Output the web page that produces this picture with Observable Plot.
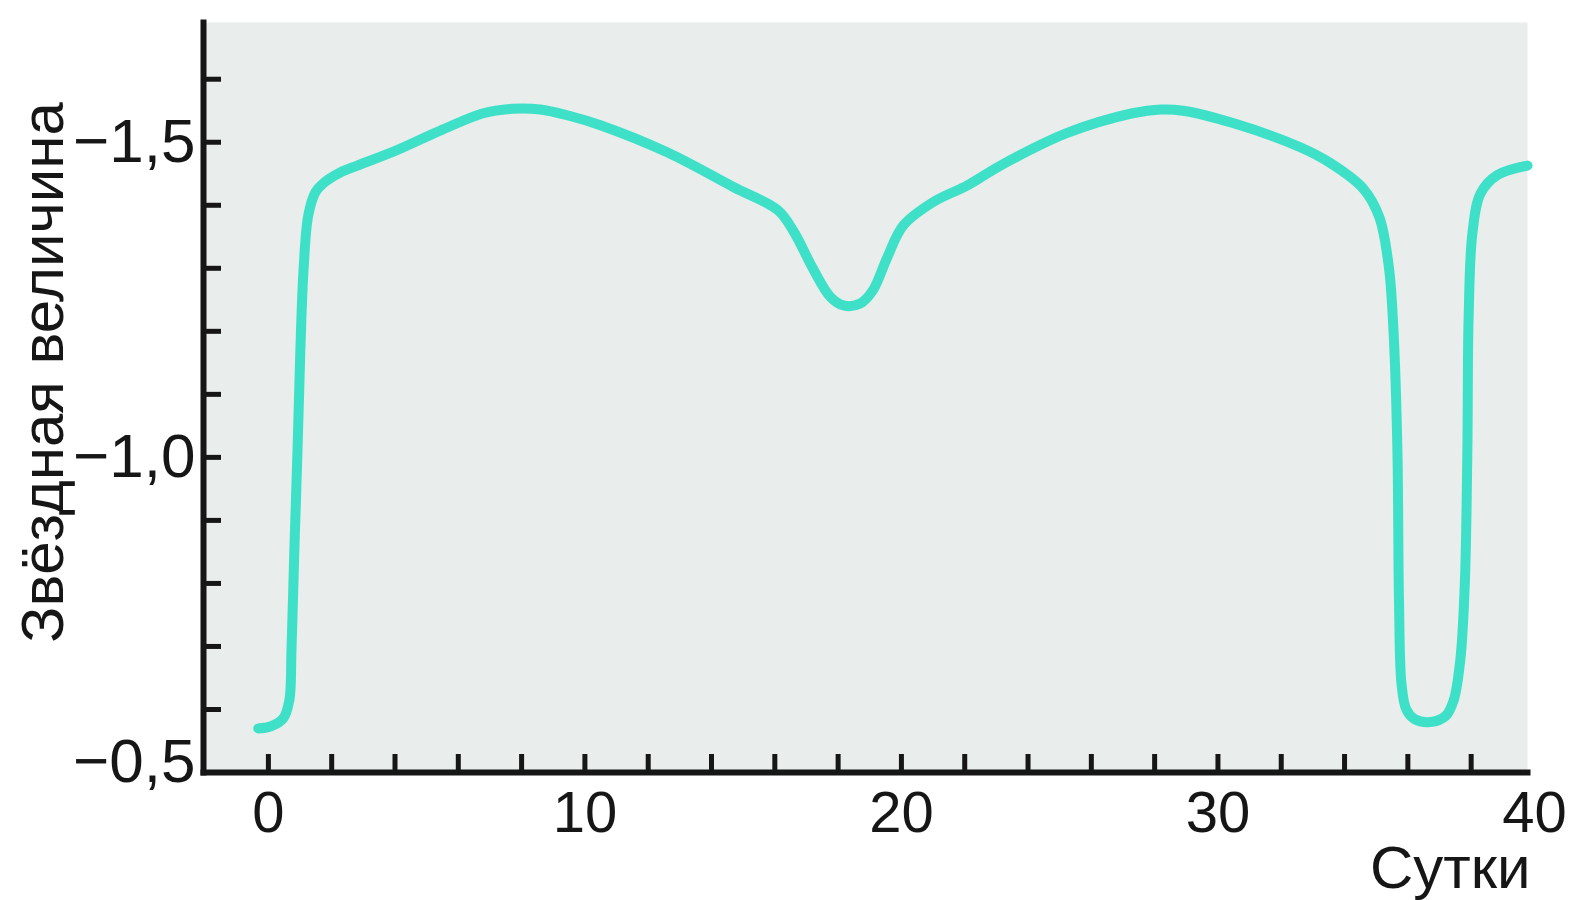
<!DOCTYPE html>
<html>
<head>
<meta charset="utf-8">
<script src="https://cdn.jsdelivr.net/npm/d3@7"></script>
<script src="https://cdn.jsdelivr.net/npm/@observablehq/plot@0.6"></script>
<style>
  html, body { margin: 0; padding: 0; background: #ffffff; }
  #chart svg { display: block; }
</style>
</head>
<body>
<div id="chart"></div>
<script>
// Days
const days = [
  -0.32, 0.06, 0.47, 0.66, 0.73, 0.82, 0.92, 1.01, 1.11, 1.26, 1.49, 1.74, 2.27, 2.81, 3.95,
  5.5, 6.79, 7.7, 8.59, 9.5, 10.49, 12.6, 14.69, 16.1, 16.6, 17.2, 17.75, 18.17, 18.7, 19.1,
  19.55, 20.06, 21.0, 22.1, 23.13, 25.2, 27.3, 28.2, 28.9, 30.5, 32.6, 33.55, 34.6, 35.1, 35.4,
  35.55, 35.67, 35.72, 35.8, 35.95, 36.2, 36.71, 37.2, 37.45, 37.66, 37.8, 37.88, 37.92, 38.04,
  38.3, 38.83, 39.78
];
// Stellar magnitude
const magnitude = [
  -0.570, -0.573, -0.586, -0.614, -0.694, -0.852, -1.011, -1.170, -1.297, -1.384, -1.421, -1.435, -1.452, -1.463, -1.485,
  -1.520, -1.546, -1.553, -1.552, -1.542, -1.527, -1.484, -1.429, -1.392, -1.358, -1.300, -1.255, -1.241, -1.244, -1.265,
  -1.317, -1.368, -1.405, -1.432, -1.463, -1.514, -1.546, -1.552, -1.550, -1.530, -1.492, -1.467, -1.426, -1.381, -1.302,
  -1.197, -1.011, -0.773, -0.640, -0.600, -0.585, -0.580, -0.590, -0.615, -0.680, -0.800, -1.011, -1.222, -1.356,
  -1.419, -1.448, -1.463
];
// Ticks
const xMinorTicks = [0, 2, 4, 6, 8, 10, 12, 14, 16, 18, 20, 22, 24, 26, 28, 30, 32, 34, 36, 38];
const xLabelTicks = [0, 10, 20, 30, 40];
const yMinorTicks = [-1.6, -1.5, -1.4, -1.3, -1.2, -1.1, -1.0, -0.9, -0.8, -0.7, -0.6];
const yLabelTicks = [-1.5, -1.0];
const yBottomTick = [-0.5];
const xTitle = "Сутки";
const yTitle = "Звёздная величина";

const data = days.map((d, i) => ({day: d, mag: magnitude[i]}));
const fmtY = d => d.toFixed(1).replace(".", ",").replace("-", "\u2212");
const ink = "#161616";
const font = "'Liberation Sans', Arial, sans-serif";

const chart = Plot.plot({
  width: 1574,
  height: 900,
  marginLeft: 203,
  marginRight: 47,
  marginTop: 22,
  marginBottom: 128,
  style: {fontFamily: font, color: ink, background: "#ffffff"},
  x: {domain: [-2.05, 39.78]},
  y: {domain: [-0.5, -1.69]},
  marks: [
    Plot.frame({fill: "#e9edec", stroke: null}),
    Plot.axisY({ticks: yMinorTicks, tickSize: -18, tickFormat: () => "", strokeWidth: 5, stroke: ink, label: null}),
    Plot.axisY({ticks: yLabelTicks, tickSize: 0, tickPadding: 8, tickFormat: fmtY, fontSize: 62, fill: ink, label: null}),
    Plot.axisY({ticks: yBottomTick, tickSize: 0, tickPadding: 8, tickFormat: fmtY, fontSize: 62, fill: ink, dy: -10, label: null}),
    Plot.axisX({ticks: xMinorTicks, tickSize: -18, tickFormat: () => "", strokeWidth: 5, stroke: ink, label: null}),
    Plot.axisX({ticks: xLabelTicks, tickSize: 0, tickPadding: 18, fontSize: 58, fill: ink, label: null}),
    Plot.frame({anchor: "left", stroke: ink, strokeWidth: 6}),
    Plot.frame({anchor: "bottom", stroke: ink, strokeWidth: 6}),
    Plot.line(data, {x: "day", y: "mag", curve: "catmull-rom", stroke: "#3fe0c8", strokeWidth: 10, strokeLinecap: "round", strokeLinejoin: "round"}),
    Plot.text([yTitle], {frameAnchor: "left", rotate: -90, dx: -160, dy: -25, textAnchor: "middle", lineAnchor: "middle", fontSize: 60, fill: ink}),
    Plot.text([xTitle], {frameAnchor: "bottom-right", textAnchor: "end", dx: 3, dy: 96, lineAnchor: "middle", fontSize: 60, fill: ink})
  ]
});
document.getElementById("chart").appendChild(chart);
</script>
</body>
</html>
